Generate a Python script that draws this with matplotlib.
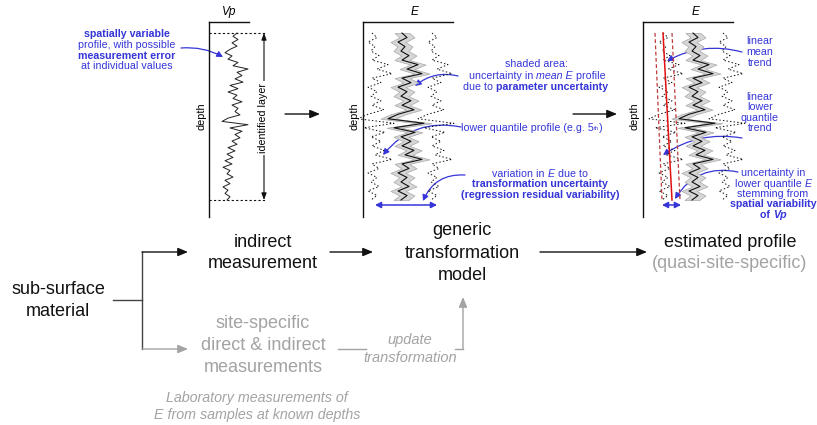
import numpy as np
import matplotlib
matplotlib.use('Agg')
import matplotlib.pyplot as plt

plt.rcParams['font.family'] = ['Liberation Sans', 'DejaVu Sans']

# ---------------- data ----------------
# Vp profile (arbitrary units), top -> bottom of layer
vp_profile = [28, 24, 29, 23, 28, 21, 16, 23, 19, 29, 24, 39, 28, 33, 26, 34, 21, 29,
              19, 28, 24, 33, 23, 29, 26, 31, 19, 13, 39, 21, 33, 26, 31, 23, 28, 19,
              26, 18, 24, 16, 23, 14, 21, 18, 24, 16, 21, 14, 19, 16, 21, 18]
# mean E profile (arbitrary units)
e_mean = [39, 44, 35, 42, 38, 46, 39, 55, 44, 59, 39, 48, 35, 44, 38, 48, 39, 51, 35,
          25, 61, 31, 52, 38, 48, 39, 51, 42, 59, 39, 46, 35, 44, 38, 46, 35, 44, 38]
e_param_unc = 7.5        # half-width of shaded band (parameter uncertainty)
e_transform_unc = 30.0   # offset of quantile profiles (transformation uncertainty)
layer_depth = [0.0, 10.0]
# linear lower-quantile trend (top, bottom) and its uncertainty bounds
trend_lower = [9.0, 18.0]
trend_lower_lo = [1.0, 8.0]
trend_lower_hi = [18.0, 26.0]

BLUE = '#3535d8'
GRAY = '#a3a3a3'
BLACK = '#111111'

W, H = 817, 425
fig = plt.figure(figsize=(W / 100, H / 100), dpi=100)
ax = fig.add_axes([0, 0, 1, 1])
ax.set_xlim(0, W)
ax.set_ylim(H, 0)
ax.axis('off')
renderer = fig.canvas.get_renderer()

LAYER_TOP, LAYER_BOT = 33, 200


def panel(x0, x1, xlim, y0=22, y1=217):
    a = fig.add_axes([x0 / W, 1 - y1 / H, (x1 - x0) / W, (y1 - y0) / H])
    a.set_xlim(*xlim)
    sc = (layer_depth[1] - layer_depth[0]) / (LAYER_BOT - LAYER_TOP)
    a.set_ylim(layer_depth[1] + (y1 - LAYER_BOT) * sc, layer_depth[0] - (LAYER_TOP - y0) * sc)
    for s in ['right', 'bottom']:
        a.spines[s].set_visible(False)
    for s in ['left', 'top']:
        a.spines[s].set_linewidth(1.0)
        a.spines[s].set_color(BLACK)
    a.set_xticks([])
    a.set_yticks([])
    a.patch.set_alpha(0)
    return a


d_vp = np.linspace(layer_depth[0], layer_depth[1], len(vp_profile))
d_e = np.linspace(layer_depth[0], layer_depth[1], len(e_mean))
em = np.array(e_mean)

# ---- panel 1: Vp ----
a1 = panel(209, 249, (0, 40))
a1.plot(vp_profile, d_vp, color='#222222', lw=0.7, clip_on=False)
ax.text(229, 12, 'Vp', style='italic', fontsize=8.5, ha='center', va='center')
ax.text(202, 116, 'depth', rotation=90, fontsize=7.8, ha='center', va='center')
for yy in (LAYER_TOP, LAYER_BOT):
    ax.plot([209, 266], [yy, yy], color=BLACK, lw=0.8, ls=(0, (2, 2)))
ax.annotate('', xy=(264, LAYER_BOT), xytext=(264, LAYER_TOP),
            arrowprops=dict(arrowstyle='<|-|>,head_length=0.4,head_width=0.15', color=BLACK,
                            lw=0.8, shrinkA=0, shrinkB=0))
ax.text(263, 118, 'identified layer', rotation=90, fontsize=7.7, ha='center', va='center',
        bbox=dict(facecolor='white', edgecolor='none', pad=1.5))


# ---- panel 2: E ----
def e_panel(a):
    a.fill_betweenx(d_e, em - e_param_unc, em + e_param_unc, color='#d6d6d6',
                    edgecolor='#a8a8a8', lw=0.5, clip_on=False)
    a.plot(em, d_e, color=BLACK, lw=0.8, clip_on=False)
    a.plot(em - e_transform_unc, d_e, color=BLACK, lw=0.7, ls=(0, (1.5, 2.2)), clip_on=False)
    a.plot(em + e_transform_unc, d_e, color=BLACK, lw=0.7, ls=(0, (1.5, 2.2)), clip_on=False)


a2 = panel(363, 453, (0, 90))
e_panel(a2)
ax.text(415, 12, 'E', style='italic', fontsize=8.5, ha='center', va='center')
ax.text(355, 116, 'depth', rotation=90, fontsize=7.8, ha='center', va='center')

# ---- panel 3: E with trends ----
a3 = panel(643, 733, (-11, 79))
e_panel(a3)
a3.plot(trend_lower, layer_depth, color='#e01010', lw=1.1, clip_on=False)
a3.plot(trend_lower_lo, layer_depth, color='#c03a3a', lw=0.9, ls=(0, (3, 2)), clip_on=False)
a3.plot(trend_lower_hi, layer_depth, color='#c03a3a', lw=0.9, ls=(0, (3, 2)), clip_on=False)
ax.text(696, 12, 'E', style='italic', fontsize=8.5, ha='center', va='center')
ax.text(635, 116, 'depth', rotation=90, fontsize=7.8, ha='center', va='center')

# ---- arrows between panels ----
for x0, x1 in ((285, 320), (573, 617)):
    ax.annotate('', xy=(x1, 114), xytext=(x0, 114),
                arrowprops=dict(arrowstyle='-|>,head_length=0.6,head_width=0.25', color=BLACK,
                                lw=1, shrinkA=0, shrinkB=0))

# ---- blue annotations ----
FS = 7.7


def rich(x, y, parts, ha='center', size=FS, color=BLUE):
    """Draw a line made of differently styled parts; y is the vertical centre."""
    base = y + 0.36 * size * 100 / 72
    items = []
    total = 0.0
    for s, kw in parts:
        kw = dict(kw)
        sz = kw.pop('size', size)
        dy = kw.pop('dy', 0)
        t = ax.text(0, base + dy, s, fontsize=sz, color=color, ha='left', va='baseline', **kw)
        w = t.get_window_extent(renderer).width
        items.append((t, w, base + dy))
        total += w
    xs = x - total / 2 if ha == 'center' else x
    for t, w, yy in items:
        t.set_position((xs, yy))
        xs += w


def btxt(x, y, s, ha='center', **kw):
    rich(x, y, [(s, kw)], ha=ha)


def barrow(start, end, rad=0.25):
    ax.annotate('', xy=end, xytext=start,
                arrowprops=dict(arrowstyle='-|>,head_length=0.35,head_width=0.18', color=BLUE,
                                lw=0.9, shrinkA=0, shrinkB=0,
                                connectionstyle='arc3,rad=%g' % rad))


def bdouble(x0, x1, y):
    ax.annotate('', xy=(x1, y), xytext=(x0, y),
                arrowprops=dict(arrowstyle='<|-|>,head_length=0.35,head_width=0.18', color=BLUE,
                                lw=1.1, shrinkA=0, shrinkB=0))


B = dict(weight='bold')
I = dict(style='italic')

btxt(127, 33, 'spatially variable', **B)
btxt(127, 44, 'profile, with possible')
btxt(127, 55, 'measurement error', **B)
btxt(127, 65, 'at individual values')
barrow((181, 48), (223, 57), rad=-0.15)

btxt(537, 63, 'shaded area:')
rich(537, 75, [('uncertainty in ', {}), ('mean E', I), (' profile', {})])
rich(536, 86, [('due to ', {}), ('parameter uncertainty', B)])
barrow((458, 76), (415, 86), rad=0.25)
rich(461, 127, [('lower quantile profile (e.g. 5', {}), ('th', dict(size=FS * 0.55, dy=-1)),
                (')', {})], ha='left')
barrow((461, 127), (383, 155), rad=0.3)
rich(540, 173, [('variation in ', {}), ('E', I), (' due to', {})])
btxt(540, 183, 'transformation uncertainty', **B)
btxt(540, 194, '(regression residual variability)', **B)
barrow((465, 175), (423, 201), rad=0.35)
bdouble(375, 437, 205)

btxt(760, 40, 'linear')
btxt(760, 51, 'mean')
btxt(760, 62, 'trend')
barrow((742, 52), (667, 61), rad=0.2)
btxt(760, 96, 'linear')
btxt(760, 106, 'lower')
btxt(760, 117, 'quantile')
btxt(760, 127, 'trend')
barrow((742, 138), (663, 155), rad=0.2)
btxt(773, 172, 'uncertainty in')
rich(773, 183, [('lower quantile ', {}), ('E', I)])
btxt(773, 193, 'stemming from')
btxt(773, 203, 'spatial variability', **B)
rich(773, 214, [('of ', B), ('Vp', dict(weight='bold', style='italic'))])
barrow((738, 172), (675, 199), rad=0.35)
bdouble(662, 681, 205)

# ---- flow chart ----
FL = 13


def ftxt(x, y, s, color=BLACK, **kw):
    ax.text(x, y, s, color=color, fontsize=FL, ha='center', va='center', **kw)


def farrow(start, end, color=BLACK):
    ax.annotate('', xy=end, xytext=start,
                arrowprops=dict(arrowstyle='-|>,head_length=0.6,head_width=0.25', color=color,
                                lw=1, shrinkA=0, shrinkB=0))


ftxt(58, 290, 'sub-surface')
ftxt(58, 312, 'material')
ax.plot([113, 142], [300, 300], color='#444444', lw=1)
ax.plot([142, 142], [252, 349], color='#444444', lw=1)
farrow((142, 252), (188, 252))
farrow((142, 349), (188, 349), color=GRAY)

ftxt(263, 242, 'indirect')
ftxt(263, 263, 'measurement')
farrow((330, 252), (373, 252))

ftxt(462, 230, 'generic')
ftxt(462, 253, 'transformation')
ftxt(462, 275, 'model')
farrow((540, 252), (647, 252))

ftxt(730, 242, 'estimated profile')
ftxt(730, 263, '(quasi-site-specific)', color=GRAY)

ftxt(263, 323, 'site-specific', color=GRAY)
ftxt(263, 345, 'direct & indirect', color=GRAY)
ftxt(263, 367, 'measurements', color=GRAY)
ax.plot([338, 366], [349, 349], color=GRAY, lw=1)
ax.plot([455, 463], [349, 349], color=GRAY, lw=1)
farrow((463, 349), (463, 297), color=GRAY)
ax.text(410, 340, 'update', color=GRAY, fontsize=10.5, style='italic', ha='center', va='center')
ax.text(410, 358, 'transformation', color=GRAY, fontsize=10.5, style='italic', ha='center',
        va='center')

ax.text(257, 398, 'Laboratory measurements of', color=GRAY, fontsize=10.3, style='italic',
        ha='center', va='center')
ax.text(257, 415, 'E from samples at known depths', color=GRAY, fontsize=10.3, style='italic',
        ha='center', va='center')

fig.savefig('out.png', dpi=100)
